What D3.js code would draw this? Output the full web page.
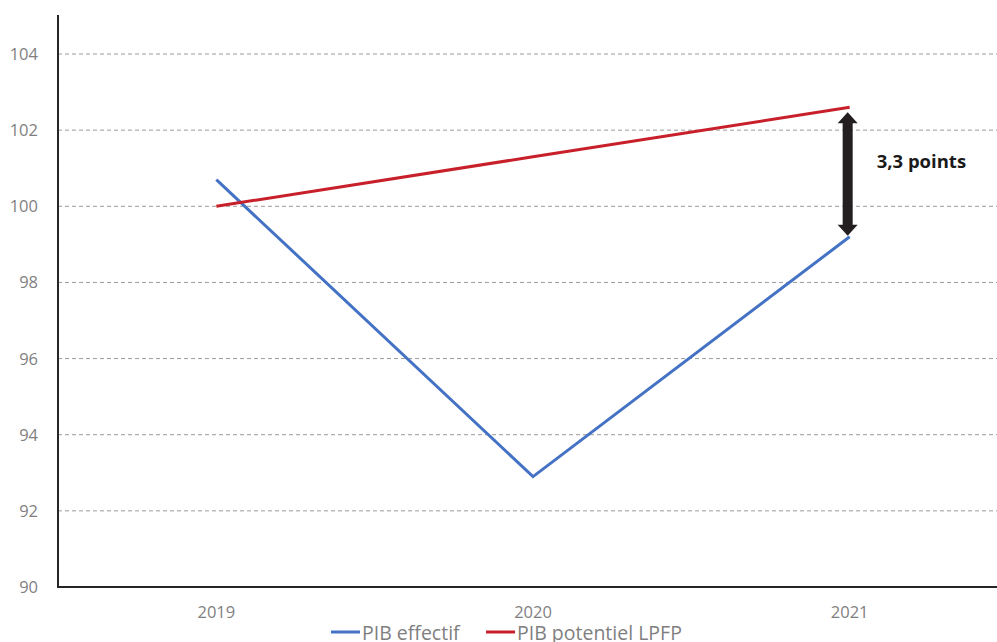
<!DOCTYPE html>
<html><head><meta charset="utf-8">
<script src="https://cdn.jsdelivr.net/npm/d3@7"></script>
<style>body{margin:0;background:#fff;overflow:hidden}svg{display:block}</style>
</head><body>
<script>
const years = ["2019", "2020", "2021"];
const pibEffectif = [100.7, 92.9, 99.2];
const pibPotentiel = [100.0, 101.3, 102.6];
const yTicks = [90, 92, 94, 96, 98, 100, 102, 104];
const seriesNames = ["PIB effectif", "PIB potentiel LPFP"];
const seriesColors = ["#4472C4", "#C8202A"];
const annotation = "3,3 points";

(function () {
const W = 997, H = 642;
const svg = d3.select("body").append("svg").attr("width", W).attr("height", H);
const pl = 58, pr = 1008, pt = 15, pb = 587;
const x = d3.scalePoint().domain(years).range([pl, pr]).padding(0.5);
const y = d3.scaleLinear().domain([90, 104]).range([pb, 54]);
const font = "'Open Sans', 'Liberation Sans', sans-serif";

// gridlines
svg.append("g").selectAll("line").data(yTicks.filter(d => d > 90)).join("line")
  .attr("x1", pl).attr("x2", W).attr("y1", d => y(d)).attr("y2", d => y(d))
  .attr("stroke", "#9a9a9a").attr("stroke-width", 1).attr("stroke-dasharray", "4,3");

// y tick labels
svg.append("g").selectAll("text").data(yTicks).join("text")
  .attr("x", 38).attr("y", d => y(d)).attr("dy", "0.36em").attr("text-anchor", "end")
  .attr("font-family", font).attr("font-size", 16.5).attr("fill", "#7f7f7f").text(d => d);

// x labels
svg.append("g").selectAll("text").data(years).join("text")
  .attr("x", d => x(d)).attr("y", 618).attr("text-anchor", "middle")
  .attr("font-family", font).attr("font-size", 16.5).attr("fill", "#7f7f7f").text(d => d);

// axes lines
svg.append("line").attr("x1", pl).attr("x2", pl).attr("y1", pt).attr("y2", pb + 1)
  .attr("stroke", "#262626").attr("stroke-width", 2);
svg.append("line").attr("x1", pl - 1).attr("x2", W).attr("y1", pb).attr("y2", pb)
  .attr("stroke", "#262626").attr("stroke-width", 2);

// series
const line = d3.line().x((d, i) => x(years[i])).y(d => y(d));
[pibEffectif, pibPotentiel].forEach((s, k) => {
  svg.append("path").datum(s).attr("d", line).attr("fill", "none")
    .attr("stroke", seriesColors[k]).attr("stroke-width", 3).attr("stroke-linejoin", "miter");
});

// double arrow
const ax = x("2021") - 2;
const yTop = y(pibPotentiel[2]) + 5, yBot = y(pibEffectif[2]) - 1;
const sw = 5, hw = 10, hh = 11;
const arrowPts = [
  [ax, yTop], [ax + hw, yTop + hh], [ax + sw, yTop + hh], [ax + sw, yBot - hh], [ax + hw, yBot - hh],
  [ax, yBot], [ax - hw, yBot - hh], [ax - sw, yBot - hh], [ax - sw, yTop + hh], [ax - hw, yTop + hh]
];
svg.append("path").attr("d", "M" + arrowPts.map(p => p.join(",")).join("L") + "Z")
  .attr("fill", "#231f20");
svg.append("text").attr("x", ax + 29).attr("y", 168)
  .attr("font-family", font).attr("font-weight", "bold").attr("font-size", 18.5).attr("fill", "#1a1a1a")
  .text(annotation);

// legend
const leg = svg.append("g");
const legX = [331, 486];
seriesNames.forEach((n, k) => {
  leg.append("line").attr("x1", legX[k]).attr("x2", legX[k] + 29).attr("y1", 632).attr("y2", 632)
    .attr("stroke", seriesColors[k]).attr("stroke-width", 3);
  leg.append("text").attr("x", legX[k] + 31).attr("y", 640).attr("font-family", font)
    .attr("font-size", 19.5).attr("fill", "#7f7f7f").text(n);
});
})();
</script>
</body></html>
